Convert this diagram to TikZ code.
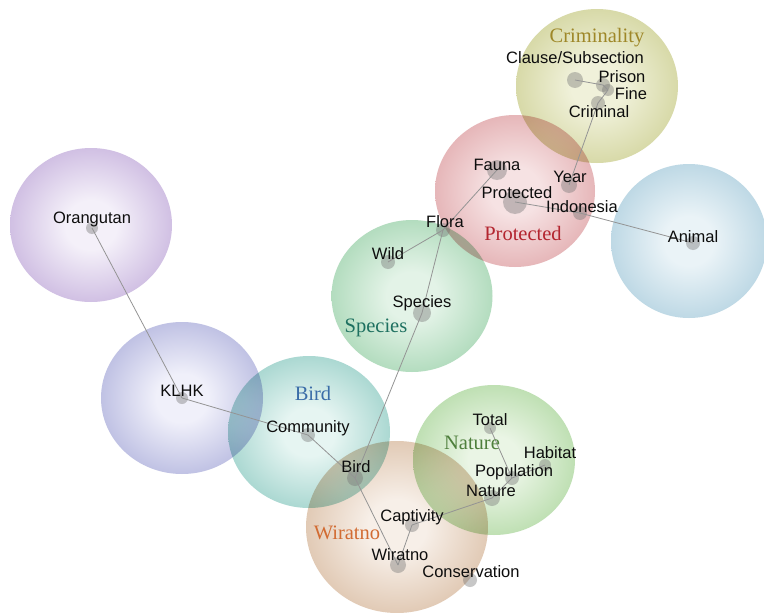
\documentclass[tikz,border=0pt]{standalone}
\usepackage{fontspec}
\setmainfont{Liberation Sans}
\newfontfamily\ttlfont{Liberation Serif}
\usetikzlibrary{shapes.geometric}
\colorlet{bubin}{white}
\colorlet{bubout}{gray}
\pgfdeclareradialshading[bubin,bubout]{bubble}{\pgfpoint{0bp}{0bp}}{color(0bp)=(bubin); color(8bp)=(bubin); color(44bp)=(bubout); color(50bp)=(bubout)}
\definecolor{crimIn}{HTML}{F0F1DA}\definecolor{crimOut}{HTML}{BCBF70}
\definecolor{protIn}{HTML}{F6E2E3}\definecolor{protOut}{HTML}{D4868A}
\definecolor{animIn}{HTML}{EAF3F7}\definecolor{animOut}{HTML}{8DBBD1}
\definecolor{specIn}{HTML}{E3F3E7}\definecolor{specOut}{HTML}{7EC392}
\definecolor{orgIn}{HTML}{F4F0F9}\definecolor{orgOut}{HTML}{A98ACB}
\definecolor{klhkIn}{HTML}{F0F0FA}\definecolor{klhkOut}{HTML}{8A8ECB}
\definecolor{birdIn}{HTML}{E6F5F2}\definecolor{birdOut}{HTML}{69B8AE}
\definecolor{natIn}{HTML}{EAF5E5}\definecolor{natOut}{HTML}{8FC87C}
\definecolor{wirIn}{HTML}{F7EFE8}\definecolor{wirOut}{HTML}{C9A17D}
\definecolor{tCrim}{HTML}{9E8728}
\definecolor{tProt}{HTML}{B3252F}
\definecolor{tSpec}{HTML}{1E7060}
\definecolor{tBird}{HTML}{3A6DA8}
\definecolor{tNat}{HTML}{4E7F3C}
\definecolor{tWir}{HTML}{D26B32}
\begin{document}
\begin{tikzpicture}[x=1pt,y=-1pt,
  cluster/.style n args={4}{ellipse, draw=none, inner sep=0pt,
     minimum width=#3pt, minimum height=#4pt,
     /utils/exec={\colorlet{bubin}{#1}\colorlet{bubout}{#2}}, shading=bubble},
  dotn/.style={circle, fill=black!55, fill opacity=0.4, draw=none, inner sep=0pt, minimum size=#1pt},
  lbl/.style={font=\fontsize{16.5}{19}\selectfont, text=black!95, inner sep=0pt},
  ttl/.style={font=\ttlfont\fontsize{20.5}{23}\selectfont, inner sep=0pt, text=#1},
  edge/.style={draw=black!42, line width=0.8pt}]
\fill[white] (0,0) rectangle (764,613);
\useasboundingbox (0,0) rectangle (764,613);
% clusters
\begin{scope}[blend mode=multiply]
\node[cluster={crimIn}{crimOut}{162}{154}] (cCrim) at (597,86) {};
\node[cluster={protIn}{protOut}{160}{152}] (cProt) at (515,191) {};
\node[cluster={animIn}{animOut}{156}{154}] (cAnim) at (689,241) {};
\node[cluster={specIn}{specOut}{161}{152}] (cSpec) at (412,296) {};
\node[cluster={orgIn}{orgOut}{162}{154}] (cOrg) at (91,225) {};
\node[cluster={klhkIn}{klhkOut}{162}{152}] (cKlhk) at (182,398) {};
\node[cluster={birdIn}{birdOut}{162}{152}] (cBird) at (309,432) {};
\node[cluster={natIn}{natOut}{162}{150}] (cNat) at (494,460) {};
\node[cluster={wirIn}{wirOut}{182}{172}] (cWir) at (397,527) {};
\end{scope}
% dots
\node[dotn=16] (clause) at (575,80) {};
\node[dotn=14] (prison) at (603,85) {};
\node[dotn=12] (fine) at (608,90) {};
\node[dotn=14] (criminal) at (598,103) {};
\node[dotn=20] (fauna) at (497,170) {};
\node[dotn=16] (year) at (569,185) {};
\node[dotn=24] (prot) at (515,202) {};
\node[dotn=14] (indo) at (580,213) {};
\node[dotn=14] (flora) at (443,230) {};
\node[dotn=14] (wild) at (388,262) {};
\node[dotn=18] (spec) at (422,313) {};
\node[dotn=14] (animal) at (693,243) {};
\node[dotn=12] (orang) at (92,228) {};
\node[dotn=12] (klhk) at (182,398) {};
\node[dotn=14] (comm) at (308,435) {};
\node[dotn=16] (birdn) at (355,478) {};
\node[dotn=12] (total) at (490,428) {};
\node[dotn=14] (pop) at (512,478) {};
\node[dotn=12] (habitat) at (545,465) {};
\node[dotn=16] (natn) at (492,498) {};
\node[dotn=14] (capt) at (412,525) {};
\node[dotn=16] (wir) at (398,565) {};
\node[dotn=14] (cons) at (470,580) {};
% edges
\draw[edge] (orang.center) -- (klhk.center);
\draw[edge] (klhk.center) -- (comm.center);
\draw[edge] (comm.center) -- (birdn.center);
\draw[edge] (birdn.center) -- (spec.center);
\draw[edge] (spec.center) -- (flora.center);
\draw[edge] (flora.center) -- (wild.center);
\draw[edge] (flora.center) -- (fauna.center);
\draw[edge] (prot.center) -- (indo.center);
\draw[edge] (indo.center) -- (animal.center);
\draw[edge] (year.center) -- (criminal.center);
\draw[edge] (criminal.center) -- (fine.center);
\draw[edge] (fine.center) -- (prison.center);
\draw[edge] (prison.center) -- (clause.center);
\draw[edge] (birdn.center) -- (wir.center);
\draw[edge] (wir.center) -- (capt.center);
\draw[edge] (capt.center) -- (natn.center);
\draw[edge] (natn.center) -- (pop.center);
\draw[edge] (pop.center) -- (total.center);
\draw[edge] (pop.center) -- (habitat.center);
% labels
\node[lbl] (lClause) at (575,58) {Clause/Subsection};
\node[lbl] (lPrison) at (622,77) {Prison};
\node[lbl] (lFine) at (631,94) {Fine};
\node[lbl] (lCriminal) at (599,112) {Criminal};
\node[lbl] (lFauna) at (497,165) {Fauna};
\node[lbl] (lYear) at (570,177) {Year};
\node[lbl] (lProt) at (517,193) {Protected};
\node[lbl] (lIndo) at (582,207) {Indonesia};
\node[lbl] (lFlora) at (445,222) {Flora};
\node[lbl] (lWild) at (388,254) {Wild};
\node[lbl] (lSpec) at (422,303) {Species};
\node[lbl] (lAnimal) at (693,237) {Animal};
\node[lbl] (lOrang) at (92,219) {Orangutan};
\node[lbl] (lKlhk) at (182,391) {KLHK};
\node[lbl] (lComm) at (308,428) {Community};
\node[lbl] (lBird) at (356,467) {Bird};
\node[lbl] (lTotal) at (490,420) {Total};
\node[lbl] (lHabitat) at (550,453) {Habitat};
\node[lbl] (lPop) at (514,472) {Population};
\node[lbl] (lNat) at (491,491) {Nature};
\node[lbl] (lCapt) at (412,517) {Captivity};
\node[lbl] (lWir) at (400,555) {Wiratno};
\node[lbl] (lCons) at (471,572) {Conservation};
% titles
\node[ttl=tCrim] (tCrimN) at (597,38) {Criminality};
\node[ttl=tProt] (tProtN) at (523,233) {Protected};
\node[ttl=tSpec] (tSpecN) at (376,328) {Species};
\node[ttl=tBird] (tBirdN) at (313,393) {Bird};
\node[ttl=tNat] (tNatN) at (472,443) {Nature};
\node[ttl=tWir] (tWirN) at (347,533) {Wiratno};
\end{tikzpicture}
\end{document}
